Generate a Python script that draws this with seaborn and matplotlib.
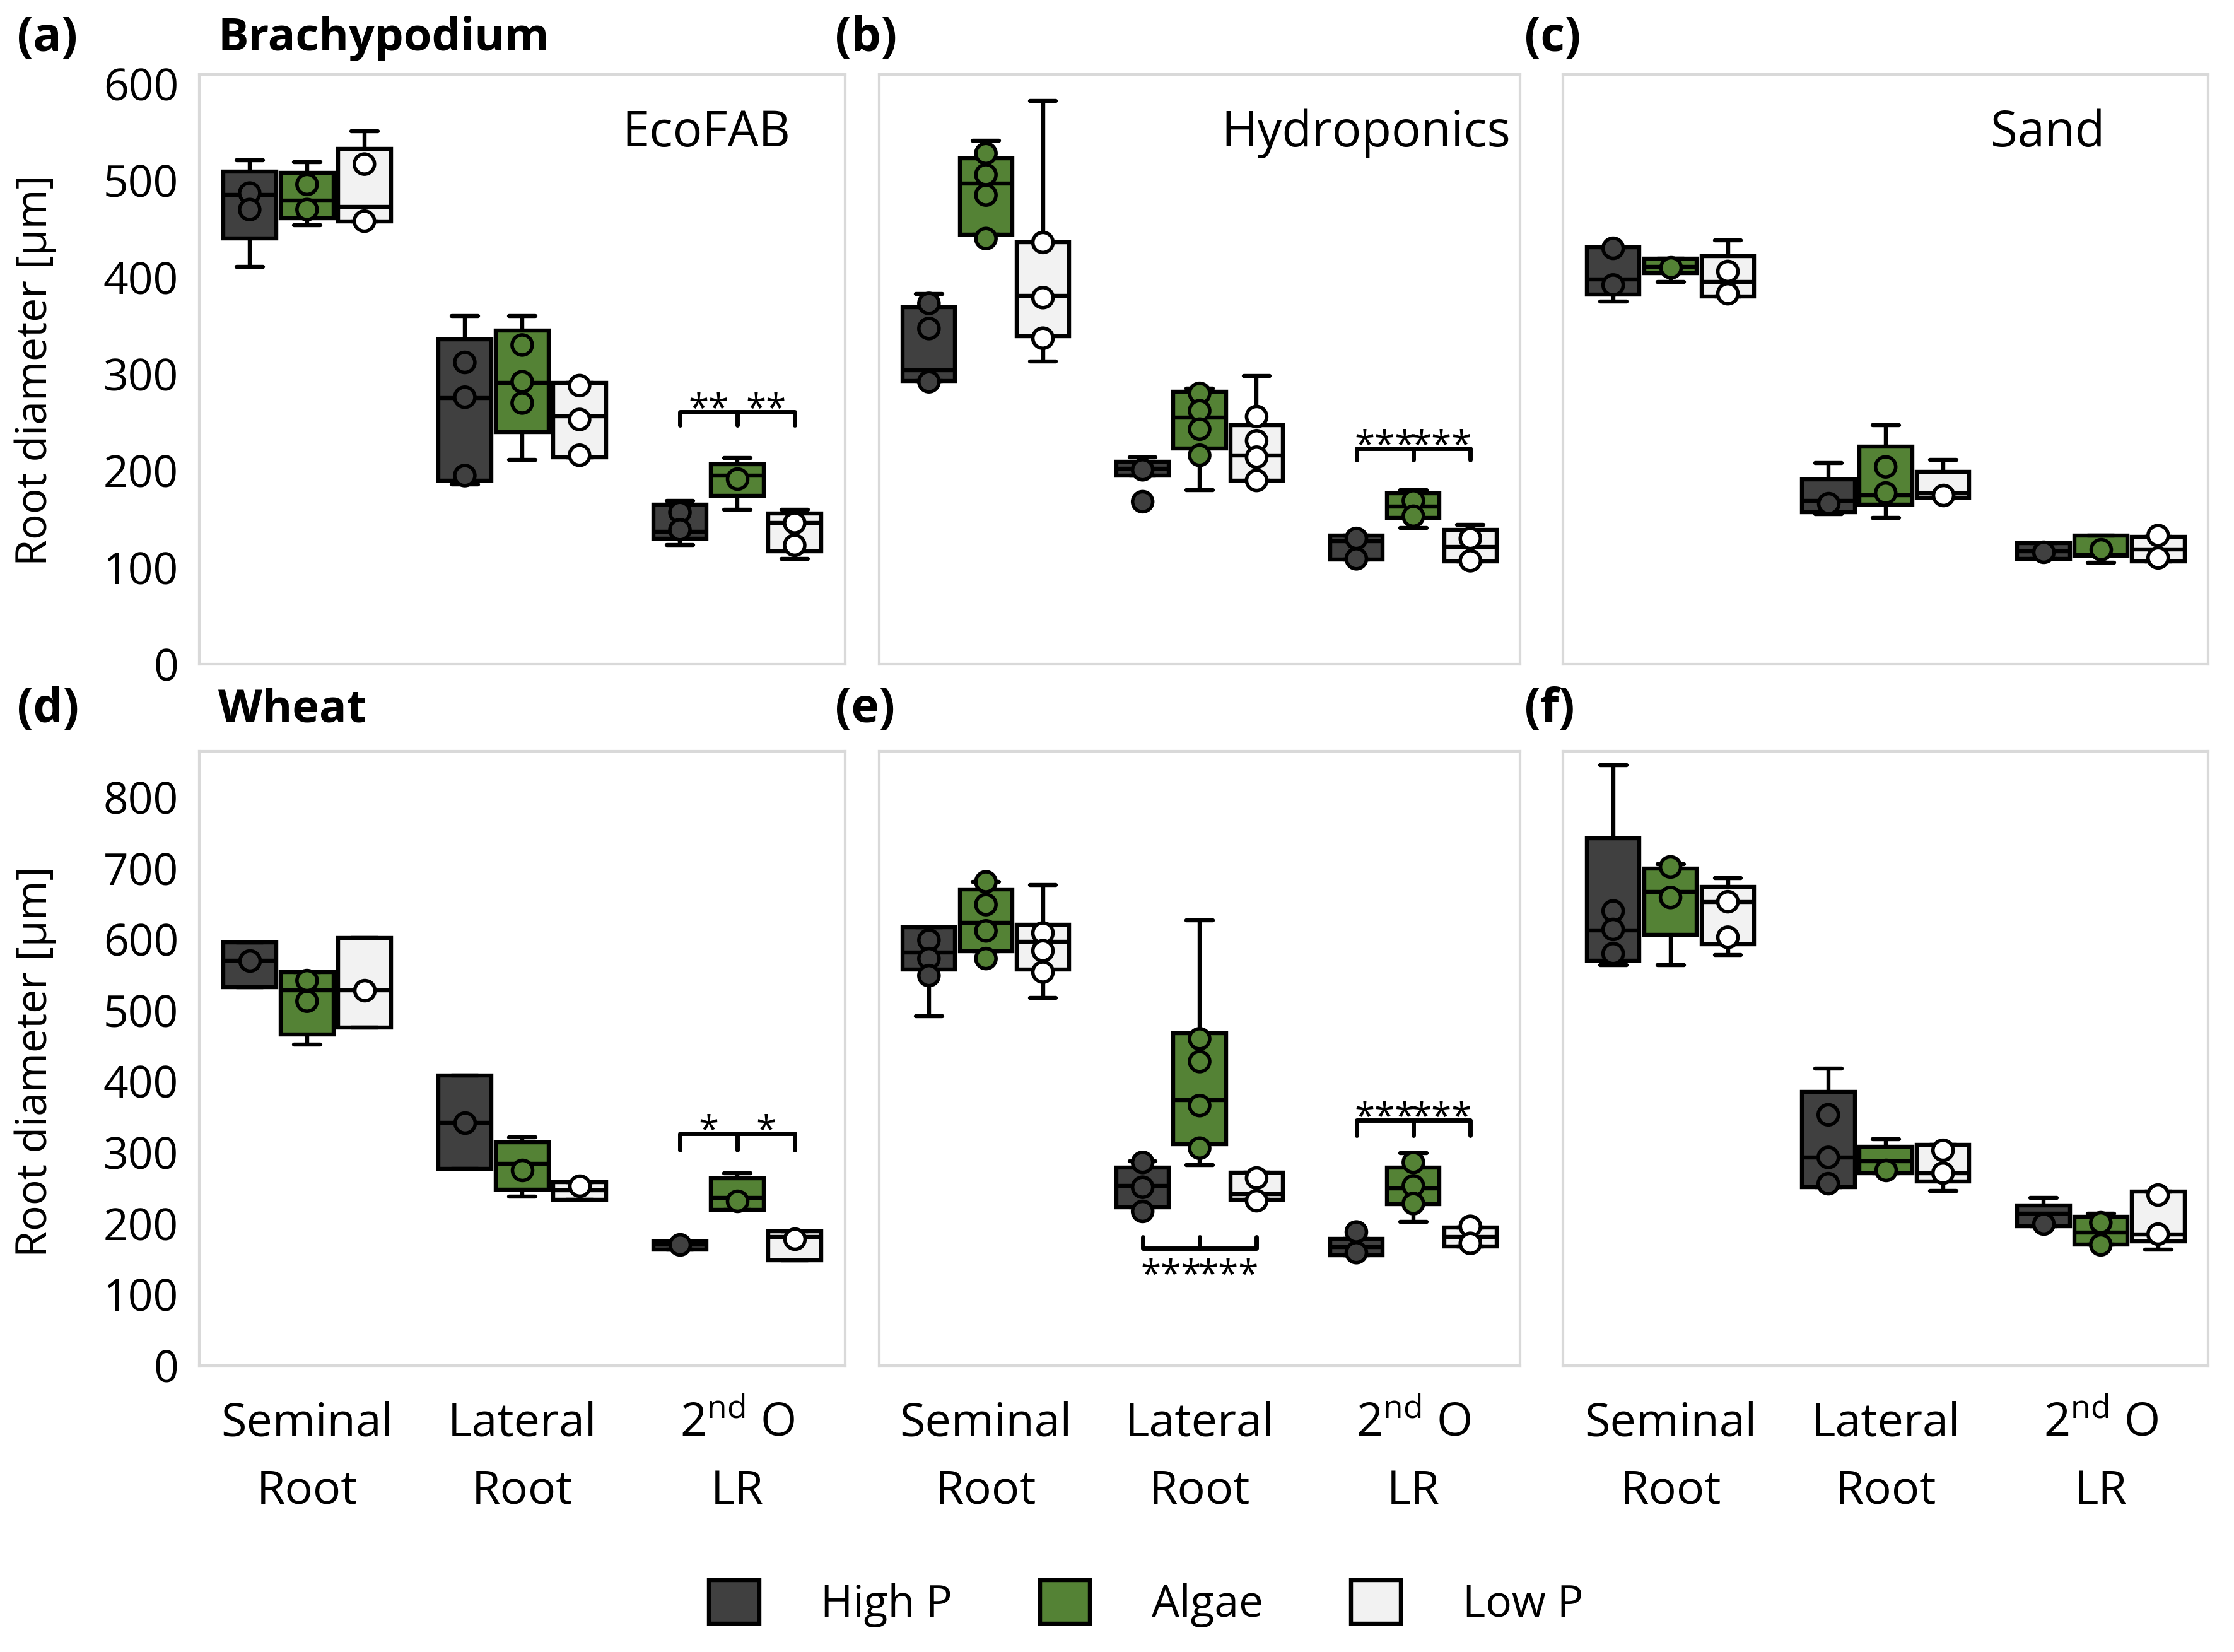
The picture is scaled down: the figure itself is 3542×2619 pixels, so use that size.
import pandas as pd
import seaborn as sns
import matplotlib.pyplot as plt
from matplotlib.patches import Patch

roots = ["Seminal", "Lateral", "2nd"]
root_labels = ["Seminal\nRoot", "Lateral\nRoot", "2$^{\\mathrm{nd}}$ O\nLR"]
treatments = ["High P", "Algae", "Low P"]
box_colors = ["#404040", "#548235", "#f2f2f2"]
dot_colors = ["#404040", "#548235", "#ffffff"]

# box stats, one row per root x treatment: [low whisker, q1, median, q3, high whisker]
box_a = [[411, 440, 485, 509, 521], [454, 461, 479, 508, 519], [458, 458, 473, 533, 551],
         [186, 190, 275, 336, 360], [211, 240, 291, 345, 360], [214, 214, 256, 291, 291],
         [123, 130, 137, 165, 169], [160, 174, 195, 207, 213], [109, 117, 146, 156, 160]]
box_b = [[293, 293, 304, 369, 383], [444, 444, 497, 523, 541], [313, 339, 381, 436, 582],
         [195, 195, 202, 209, 214], [180, 223, 255, 282, 285], [190, 190, 216, 247, 298],
         [108, 108, 127, 133, 133], [141, 151, 163, 177, 180], [106, 106, 121, 139, 144]]
box_c = [[375, 382, 398, 431, 431], [395, 404, 411, 419, 419], [380, 380, 395, 422, 438],
         [155, 157, 169, 191, 208], [151, 165, 175, 225, 247], [172, 172, 177, 199, 211],
         [109, 109, 117, 125, 125], [105, 112, 113, 133, 133], [106, 106, 119, 132, 132]]
box_d = [[533, 533, 570, 596, 596], [452, 466, 528, 554, 554], [476, 476, 528, 602, 602],
         [277, 277, 342, 408, 408], [238, 248, 284, 314, 321], [233, 233, 247, 258, 258],
         [163, 163, 170, 175, 175], [219, 219, 236, 264, 271], [148, 148, 181, 189, 189]]
box_e = [[492, 558, 582, 617, 617], [583, 583, 623, 670, 681], [518, 558, 597, 621, 677],
         [223, 223, 253, 279, 288], [282, 312, 374, 468, 627], [233, 233, 241, 272, 272],
         [155, 155, 167, 178, 178], [202, 227, 249, 279, 299], [168, 168, 181, 194, 194]]
box_f = [[564, 570, 613, 742, 845], [564, 606, 667, 700, 706], [578, 593, 653, 674, 686],
         [251, 251, 293, 385, 418], [271, 271, 288, 308, 319], [246, 259, 271, 311, 311],
         [196, 196, 214, 225, 236], [170, 170, 187, 209, 214], [163, 175, 185, 245, 245]]

# replicate points shown on top of the boxes
pts_a = [[487, 470], [496, 470], [517, 458],
         [312, 276, 195], [330, 292, 270], [288, 253, 216],
         [157, 139], [192], [146, 123]]
pts_b = [[373, 347, 292], [528, 506, 485, 440], [436, 379, 337],
         [201, 168], [280, 262, 243, 216], [256, 231, 214, 190],
         [130, 109], [169, 153], [130, 107]]
pts_c = [[430, 392], [410], [406, 383],
         [166], [204, 177], [175],
         [116], [119], [133, 110]]
pts_d = [[570], [542, 513], [528],
         [342], [275], [253],
         [170], [232], [178]]
pts_e = [[599, 573, 549], [681, 649, 612, 573], [609, 584, 554],
         [286, 251, 217], [460, 428, 366, 306], [264, 232],
         [188, 159], [286, 253, 228], [196, 172]]
pts_f = [[640, 614, 580], [702, 659], [653, 603],
         [353, 293, 256], [275], [303, 271],
         [200], [201, 170], [240, 185]]

# significance brackets
sig_panel = ["a", "b", "d", "e", "e"]
sig_group = [2, 2, 2, 1, 2]
sig_bar = [261, 223, 327, 165, 345]
sig_tick = [247, 211, 304, 181, 324]
sig_label = ["**", "***", "*", "***", "***"]

panel_names = ["a", "b", "c", "d", "e", "f"]
panel_boxes = [box_a, box_b, box_c, box_d, box_e, box_f]
panel_pts = [pts_a, pts_b, pts_c, pts_d, pts_e, pts_f]
setting = ["EcoFAB", "Hydroponics", "Sand", "", "", ""]


def long_form(rows):
    recs = []
    for i, vals in enumerate(rows):
        for v in vals:
            recs.append((roots[i // 3], treatments[i % 3], v))
    return pd.DataFrame(recs, columns=["root", "treatment", "value"])


sns.set_style("white")
plt.rcParams["font.family"] = ["Open Sans", "DejaVu Sans"]
plt.rcParams["mathtext.fontset"] = "custom"
plt.rcParams["mathtext.rm"] = "Open Sans"
for key in ["text.color", "axes.labelcolor", "xtick.color", "ytick.color"]:
    plt.rcParams[key] = "black"

fig = plt.figure(figsize=(17.71, 13.095), dpi=200)
W, H = 1568, 1159
col_x = [(140, 593), (617, 1067), (1097, 1550)]
row_y = [(52, 466), (527, 958)]
ylims = [610, 865]

axes = {}
for k, name in enumerate(panel_names):
    r, c = divmod(k, 3)
    x0, x1 = col_x[c]
    y0, y1 = row_y[r]
    ax = fig.add_axes([x0 / W, 1 - y1 / H, (x1 - x0) / W, (y1 - y0) / H])
    axes[name] = ax

    box_df = long_form(panel_boxes[k])
    pt_df = long_form(panel_pts[k])
    sns.boxplot(data=box_df, x="root", y="value", hue="treatment", order=roots,
                hue_order=treatments, palette=box_colors, saturation=1, width=0.8,
                gap=0.08, whis=(0, 100), linecolor="black", linewidth=2.3,
                fliersize=0, legend=False, ax=ax)
    sns.stripplot(data=pt_df, x="root", y="value", hue="treatment", order=roots,
                  hue_order=treatments, palette=dot_colors, dodge=True, jitter=False,
                  size=11.5, edgecolor="black", linewidth=2, legend=False, ax=ax, zorder=5)

    ax.set_xlim(-0.5, 2.5)
    ax.set_ylim(0, ylims[r])
    ax.set_xlabel("")
    ax.set_ylabel("")
    ax.set_yticks(range(0, ylims[r], 100))
    ax.tick_params(length=0, labelsize=25)
    ax.tick_params(axis="x", pad=20, labelsize=26.5)
    ax.tick_params(axis="y", pad=12)
    if c > 0:
        ax.set_yticklabels([])
    if r == 0:
        ax.set_xticklabels([])
    else:
        ax.set_xticklabels(root_labels, linespacing=1.6)
    for sp in ax.spines.values():
        sp.set_visible(True)
        sp.set_color("#d9d9d9")
        sp.set_linewidth(1.5)
    if setting[k]:
        ax.text(0.985 if c == 1 else (0.916 if c == 0 else 0.84), 0.9, setting[k],
                transform=ax.transAxes, ha="right", va="center", fontsize=28)

    lx = [12, 586, 1070][c]
    ly = [27, 498][r]
    fig.text(lx / W, 1 - ly / H, f"({name})", fontsize=27, fontweight="bold",
             ha="left", va="center")

fig.text(153 / W, 1 - 27 / H, "Brachypodium", fontsize=26, fontweight="bold", va="center")
fig.text(153 / W, 1 - 498 / H, "Wheat", fontsize=26, fontweight="bold", va="center")
fig.text(25 / W, 1 - 260 / H, "Root diameter [µm]", rotation=90, fontsize=24.5,
         ha="center", va="center")
fig.text(25 / W, 1 - 745 / H, "Root diameter [µm]", rotation=90, fontsize=24.5,
         ha="center", va="center")

dx = 0.8 / 3
for p, g, yb, yt, lab in zip(sig_panel, sig_group, sig_bar, sig_tick, sig_label):
    ax = axes[p]
    xl, xm, xr = g - dx, g, g + dx
    ax.plot([xl, xl, xr, xr], [yt, yb, yb, yt], color="black", lw=2.5, zorder=6)
    ax.plot([xm, xm], [yb, yt], color="black", lw=2.5, zorder=6)
    up = yt < yb
    for xc in [(xl + xm) / 2, (xm + xr) / 2]:
        ax.annotate(lab, xy=(xc, yb), xytext=(0, -5 if up else -22),
                    textcoords="offset points", ha="center", va="baseline",
                    fontsize=21)

handles = [Patch(facecolor=c, edgecolor="black", linewidth=2.3, label=t)
           for c, t in zip(box_colors, treatments)]
fig.legend(handles=handles, loc="center", bbox_to_anchor=(0.513, 1 - 1125 / H), ncol=3,
           frameon=False, fontsize=25, handlelength=1.15, handleheight=1.15,
           handletextpad=1.4, columnspacing=2.0)

fig.savefig("out.png", dpi=200)
